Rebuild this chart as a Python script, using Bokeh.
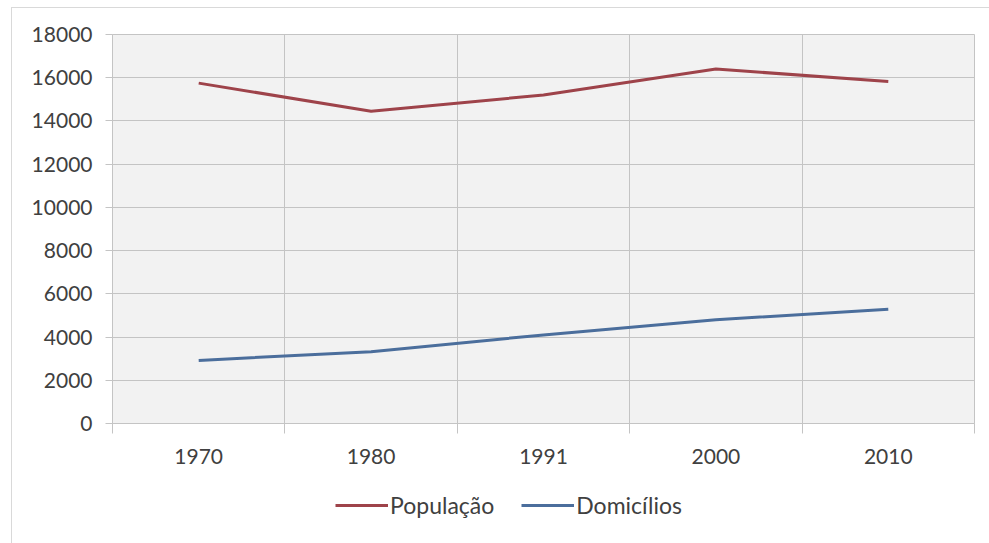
from bokeh.plotting import figure
from bokeh.layouts import column
from bokeh.models import FixedTicker, Legend, LegendItem, Range1d
from bokeh.embed import file_html
from bokeh.resources import INLINE

years = ["1970", "1980", "1991", "2000", "2010"]
populacao = [15750, 14450, 15200, 16400, 15830]
domicilios = [2920, 3320, 4100, 4800, 5290]
y_ticks = [0, 2000, 4000, 6000, 8000, 10000, 12000, 14000, 16000, 18000]
series_names = ["População", "Domicílios"]

x_pos = [i + 0.5 for i in range(len(years))]
bounds = [i for i in range(len(years) + 1)]

FONT = "Lato"
TXT = "#404040"
GRID = "#c4c4c4"
RED = "#9e434a"
BLUE = "#4b6e9c"

p = figure(width=978, height=460, output_backend="svg", toolbar_location=None,
           x_range=Range1d(0, len(years)), y_range=Range1d(0, 18000),
           min_border_left=100, min_border_right=16, min_border_top=26, min_border_bottom=45)
p.background_fill_color = "#f2f2f2"
p.border_fill_color = "white"
p.outline_line_color = GRID

p.line(x_pos, populacao, line_color=RED, line_width=3)
p.line(x_pos, domicilios, line_color=BLUE, line_width=3)

p.xaxis.ticker = FixedTicker(ticks=x_pos, minor_ticks=bounds)
p.xaxis.major_label_overrides = {x: y for x, y in zip(x_pos, years)}
p.xaxis.major_tick_out = 0
p.xaxis.major_tick_in = 0
p.xaxis.minor_tick_out = 10
p.xaxis.minor_tick_in = 0
p.xaxis.minor_tick_line_color = GRID
p.xaxis.axis_line_color = GRID
p.xaxis.major_label_standoff = 15

p.yaxis.ticker = FixedTicker(ticks=y_ticks)
p.yaxis.major_tick_out = 7
p.yaxis.major_tick_in = 0
p.yaxis.minor_tick_line_color = None
p.yaxis.major_tick_line_color = GRID
p.yaxis.axis_line_color = GRID
p.yaxis.major_label_standoff = 13

for ax in (p.xaxis, p.yaxis):
    ax.major_label_text_font = FONT
    ax.major_label_text_font_size = "21px"
    ax.major_label_text_color = TXT

p.xgrid.ticker = FixedTicker(ticks=bounds)
p.ygrid.ticker = FixedTicker(ticks=y_ticks)
p.xgrid.grid_line_color = GRID
p.ygrid.grid_line_color = GRID

# legend strip below the chart (series drawn out of view; only the legend shows)
lf = figure(width=978, height=76, output_backend="svg", toolbar_location=None,
            x_range=Range1d(-10, -9), y_range=Range1d(-10, -9),
            x_axis_location=None, y_axis_location=None,
            min_border_left=0, min_border_right=0, min_border_top=0, min_border_bottom=0)
lf.grid.visible = False
lf.outline_line_color = None
lf.background_fill_color = "white"
lr1 = lf.line(x_pos, populacao, line_color=RED, line_width=3)
lr2 = lf.line(x_pos, domicilios, line_color=BLUE, line_width=3)

legend = Legend(items=[LegendItem(label=series_names[0], renderers=[lr1]),
                       LegendItem(label=series_names[1], renderers=[lr2])],
                orientation="horizontal", location=(223, 25))
legend.glyph_width = 53
legend.label_standoff = 2
legend.spacing = 27
legend.label_text_font = FONT
legend.label_text_font_size = "23px"
legend.label_text_color = TXT
legend.border_line_color = None
legend.background_fill_alpha = 0
legend.padding = 4
legend.margin = 0
lf.add_layout(legend, "center")

layout = column(p, lf, spacing=0)
layout.margin = (7, 0, 0, 11)
layout.styles = {"border-left": "1px solid #d9d9d9", "border-top": "1px solid #d9d9d9"}

open("out.html", "w").write(file_html(layout, INLINE))
